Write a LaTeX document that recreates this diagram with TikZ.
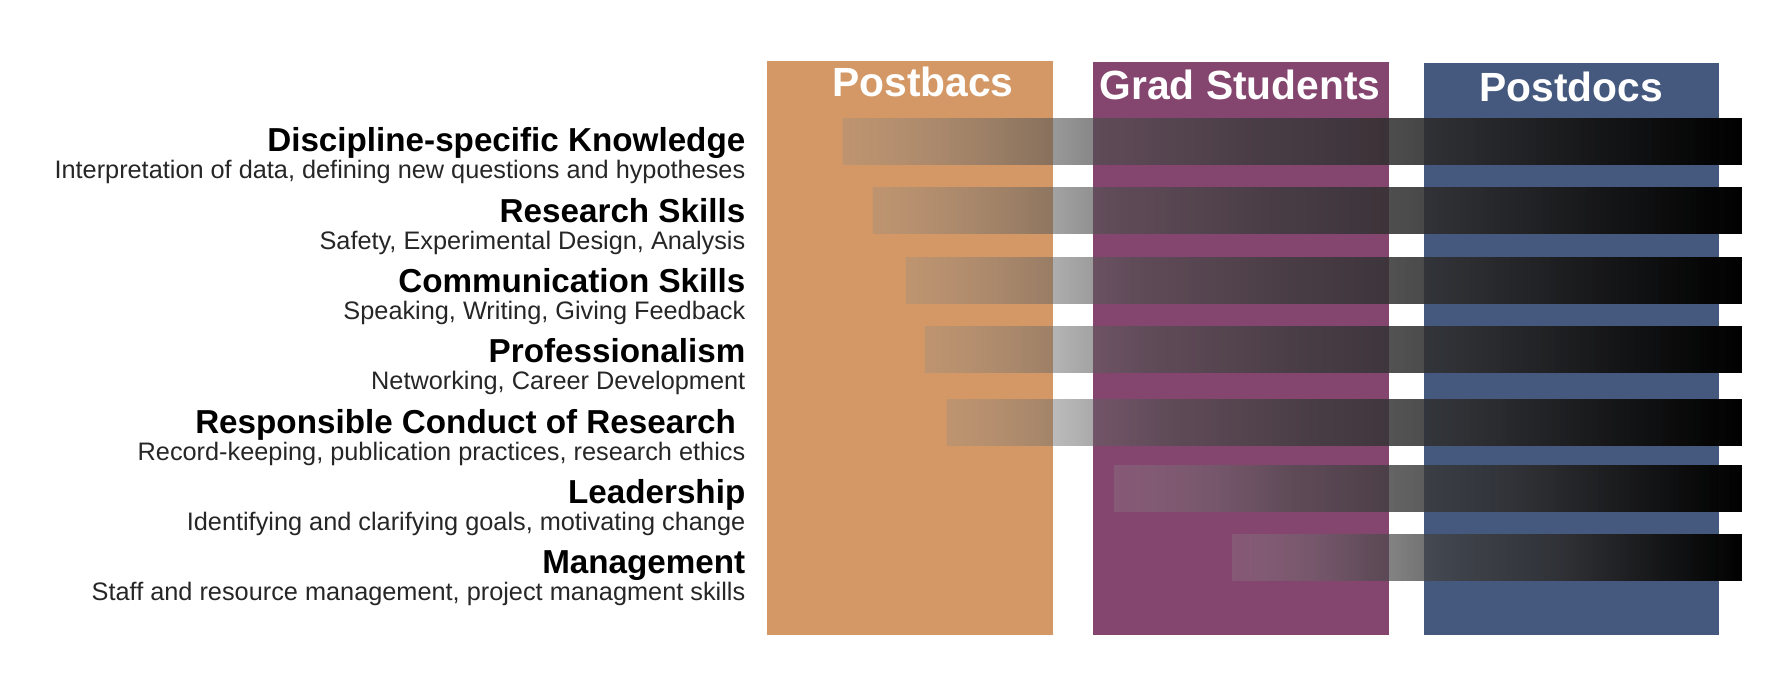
\documentclass[tikz,border=0pt]{standalone}
\usepackage{fontspec}
\setmainfont{Liberation Sans}
\usetikzlibrary{fadings}

\definecolor{postbaccol}{HTML}{D39865}
\definecolor{gradcol}{HTML}{84456E}
\definecolor{postdoccol}{HTML}{45597F}

% gray-to-black bars that fade in from the left (the path covers 25bp--75bp)
\pgfdeclarehorizontalshading{barshade}{100bp}{color(0bp)=(black!45); color(25bp)=(black!45); color(38.5bp)=(black!69); color(47bp)=(black!76); color(56.5bp)=(black!82); color(75bp)=(black); color(100bp)=(black)}
\pgfdeclarehorizontalshading{barfadeshade}{100bp}{color(0bp)=(pgftransparent!72); color(25bp)=(pgftransparent!72); color(38.5bp)=(pgftransparent!34); color(47bp)=(pgftransparent!20); color(56.5bp)=(pgftransparent!13); color(65bp)=(pgftransparent!5); color(75bp)=(pgftransparent!0); color(100bp)=(pgftransparent!0)}
\tikzfading[name=barfade, shading=barfadeshade]

\tikzset{
  colbox/.style={fill=#1, inner sep=0pt, outer sep=0pt, anchor=north west},
  coltitle/.style={text=white, font=\bfseries\fontsize{11.6}{14}\selectfont, anchor=base, inner sep=0pt},
  skillhead/.style={font=\bfseries\fontsize{9.45}{11}\selectfont, anchor=base east, inner sep=0pt},
  skillsub/.style={font=\fontsize{7.2}{9}\selectfont, text=black!85, anchor=base east, inner sep=0pt},
  skillbar/.style={shading=barshade, path fading=barfade},
}

\begin{document}
\begin{tikzpicture}
  \useasboundingbox (0,0) rectangle (17.86,6.88);

  % Columns
  \node[colbox=postbaccol, minimum width=2.86cm, minimum height=5.74cm] (postbacs) at (7.67,6.27) {};
  \node[colbox=gradcol, minimum width=2.96cm, minimum height=5.73cm] (grads) at (10.93,6.26) {};
  \node[colbox=postdoccol, minimum width=2.95cm, minimum height=5.72cm] (postdocs) at (14.24,6.25) {};

  \node[coltitle] (tpostbacs) at (9.23,5.91) {Postbacs};
  \node[coltitle] (tgrads) at (12.40,5.88) {Grad Students};
  \node[coltitle] (tpostdocs) at (15.71,5.86) {Postdocs};

  % Skills
  \foreach \head/\sub [count=\i from 0] in {
      {Discipline-specific Knowledge}/{Interpretation of data, defining new questions and hypotheses},
      {Research Skills}/{Safety, Experimental Design, Analysis},
      {Communication Skills}/{Speaking, Writing, Giving Feedback},
      {Professionalism}/{Networking, Career Development},
      {Responsible Conduct of Research\kern.28em}/{Record-keeping, publication practices, research ethics},
      {Leadership}/{Identifying and clarifying goals, motivating change},
      {Management}/{Staff and resource management, project managment skills}} {
    \node[skillhead] (h\i) at (7.46,5.36-0.703*\i) {\head};
    \node[skillsub] (s\i) at (7.46,5.09-0.703*\i) {\sub};
  }

  % Bars
  \foreach \xl/\yb in {8.43/5.23, 8.73/4.54, 9.06/3.84, 9.25/3.15, 9.47/2.42, 11.14/1.76, 12.32/1.07}
    \path[skillbar] (\xl,\yb) rectangle (17.42,\yb+0.46);
\end{tikzpicture}
\end{document}
